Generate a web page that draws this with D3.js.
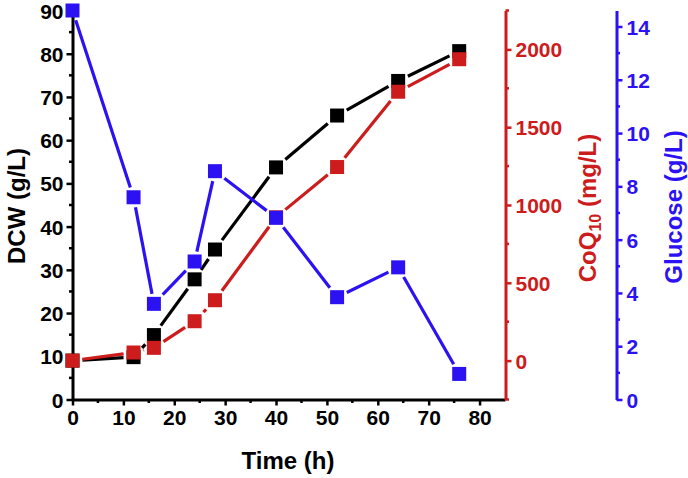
<!DOCTYPE html>
<html>
<head>
<meta charset="utf-8">
<script src="https://cdn.jsdelivr.net/npm/d3@7"></script>
<style>
html,body{margin:0;padding:0;background:#fff;}
svg{display:block;font-family:"Liberation Sans",Arial,sans-serif;font-weight:bold;}
</style>
</head>
<body>
<svg id="chart" width="688" height="478"></svg>
<script>
const time = [0, 12, 16, 24, 28, 40, 52, 64, 76];
const dcw = [9, 9.8, 14.9, 27.8, 34.7, 53.7, 65.7, 73.7, 80.6];
const coq10 = [0, 52, 82, 253, 388, 921, 1244, 1728, 1937];
const glucose = [14.6, 7.59, 3.59, 5.18, 8.57, 6.82, 3.84, 4.96, 0.96];

const xTicks = [0, 10, 20, 30, 40, 50, 60, 70, 80];
const dcwTicks = [0, 10, 20, 30, 40, 50, 60, 70, 80, 90];
const coqTicks = [0, 500, 1000, 1500, 2000];
const gluTicks = [0, 2, 4, 6, 8, 10, 12, 14];

const BLACK = "#000000", RED = "#cc1c1c", BLUE = "#2c12f2";
const TICK_FS = 21, TITLE_FS = 24;

const svg = d3.select("#chart");
const x = d3.scaleLinear().domain([0, 85]).range([72.5, 505]);
const yD = d3.scaleLinear().domain([0, 90]).range([399.5, 10.5]);
const yC = d3.scaleLinear().domain([-250, 2250]).range([399.5, 10.5]);
const yG = d3.scaleLinear().domain([0, 14.6]).range([399.5, 10.5]);

const xRed = 505.5, xBlue = 616.5;
const fmt = d3.format("d");

function styleAxis(g, color) {
  g.selectAll(".domain").attr("stroke", color).attr("stroke-width", 3);
  g.selectAll(".tick line").attr("stroke", color).attr("stroke-width", 2.5);
  g.selectAll(".tick text").attr("fill", color).attr("font-size", TICK_FS).attr("font-weight", "bold")
    .attr("font-family", '"Liberation Sans",Arial,sans-serif');
}

function minor(g, vals, scale, orient, color, len) {
  g.selectAll(null).data(vals).enter().append("line")
    .attr("stroke", color).attr("stroke-width", 2.5)
    .each(function(d) {
      const s = d3.select(this);
      if (orient === "bottom") s.attr("x1", scale(d)).attr("x2", scale(d)).attr("y1", 0).attr("y2", len);
      else if (orient === "left") s.attr("y1", scale(d)).attr("y2", scale(d)).attr("x1", 0).attr("x2", -len);
      else s.attr("y1", scale(d)).attr("y2", scale(d)).attr("x1", 0).attr("x2", len);
    });
}

// X axis
const gx = svg.append("g").attr("transform", "translate(0,399.5)")
  .call(d3.axisBottom(x).tickValues(xTicks).tickFormat(fmt).tickSize(6).tickPadding(5).tickSizeOuter(0));
styleAxis(gx, BLACK);
minor(gx, [5, 15, 25, 35, 45, 55, 65, 75], x, "bottom", BLACK, 3.5);

// Left axis
const gl = svg.append("g").attr("transform", "translate(72.5,0)")
  .call(d3.axisLeft(yD).tickValues(dcwTicks).tickFormat(fmt).tickSize(6).tickPadding(3).tickSizeOuter(0));
styleAxis(gl, BLACK);
gl.selectAll(".tick text").attr("dy", "0.36em");
minor(gl, [5, 15, 25, 35, 45, 55, 65, 75, 85], yD, "left", BLACK, 3.5);

// Red axis
const gr = svg.append("g").attr("transform", `translate(${xRed},0)`)
  .call(d3.axisRight(yC).tickValues(coqTicks).tickFormat(fmt).tickSize(6).tickPadding(4).tickSizeOuter(0));
styleAxis(gr, RED);
gr.selectAll(".tick text").attr("dy", "0.36em");
minor(gr, [-250, 250, 750, 1250, 1750, 2250], yC, "right", RED, 3.5);

// Blue axis
const gb = svg.append("g").attr("transform", `translate(${xBlue},0)`)
  .call(d3.axisRight(yG).tickValues(gluTicks).tickFormat(fmt).tickSize(6).tickPadding(4).tickSizeOuter(0));
styleAxis(gb, BLUE);
gb.selectAll(".tick text").attr("dy", "0.36em");
minor(gb, [1, 3, 5, 7, 9, 11, 13], yG, "right", BLUE, 3.5);

// Titles
svg.append("text").attr("x", 288).attr("y", 469).attr("text-anchor", "middle")
  .attr("font-size", TITLE_FS).attr("fill", BLACK).text("Time (h)");
svg.append("text").attr("transform", "translate(25,206) rotate(-90)").attr("text-anchor", "middle")
  .attr("font-size", TITLE_FS).attr("fill", BLACK).text("DCW (g/L)");
const ct = svg.append("text").attr("transform", "translate(596,208) rotate(-90)").attr("text-anchor", "middle")
  .attr("font-size", TITLE_FS).attr("fill", RED);
ct.append("tspan").text("CoQ");
ct.append("tspan").attr("font-size", 16).attr("dy", 5).text("10");
ct.append("tspan").attr("dy", -5).text(" (mg/L)");
svg.append("text").attr("transform", "translate(682,207) rotate(-90)").attr("text-anchor", "middle")
  .attr("font-size", TITLE_FS).attr("fill", BLUE).text("Glucose (g/L)");

// Series
const S = 14, HALF = S / 2, GAP = 3;
function series(vals, yScale, color) {
  const pts = time.map((t, i) => [x(t), yScale(vals[i])]);
  const g = svg.append("g");
  for (let i = 0; i < pts.length - 1; i++) {
    const [x1, y1] = pts[i], [x2, y2] = pts[i + 1];
    const dx = x2 - x1, dy = y2 - y1, L = Math.hypot(dx, dy);
    const ux = dx / L, uy = dy / L;
    const e = HALF / Math.max(Math.abs(ux), Math.abs(uy)) + GAP;
    if (L <= 2 * e) continue;
    g.append("line")
      .attr("x1", x1 + ux * e).attr("y1", y1 + uy * e)
      .attr("x2", x2 - ux * e).attr("y2", y2 - uy * e)
      .attr("stroke", color).attr("stroke-width", 3.2);
  }
  g.selectAll("rect").data(pts).enter().append("rect")
    .attr("x", d => d[0] - HALF).attr("y", d => d[1] - HALF)
    .attr("width", S).attr("height", S).attr("fill", color);
}
series(dcw, yD, BLACK);
series(coq10, yC, RED);
series(glucose, yG, BLUE);
</script>
</body>
</html>
